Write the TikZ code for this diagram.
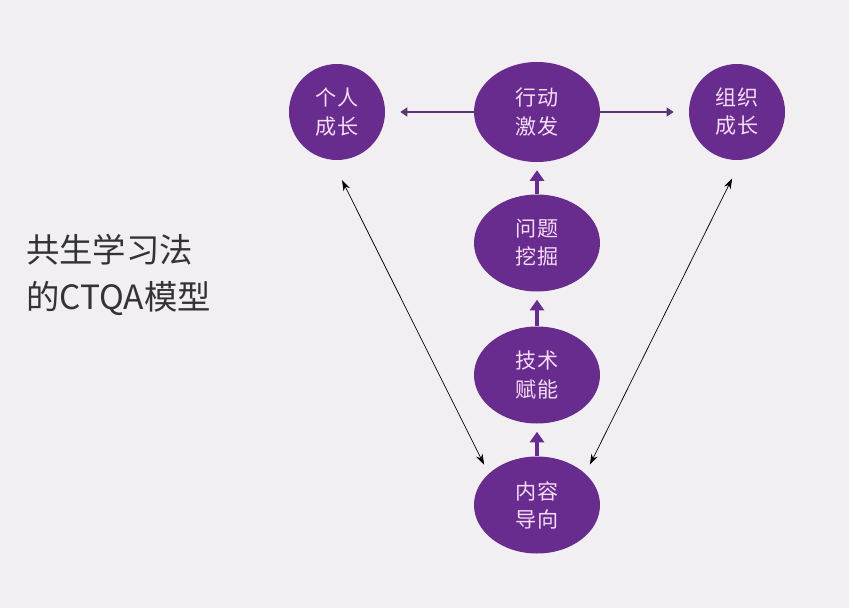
\documentclass[tikz,border=0pt]{standalone}
\usepackage{fontspec}
\setmainfont{Noto Sans CJK SC}
\usepackage{xcolor}
\usetikzlibrary{shapes.geometric,arrows.meta}

\definecolor{bgcol}{HTML}{F2EFF3}
\definecolor{ctqapurple}{HTML}{682C8E}
\definecolor{ctqatext}{HTML}{F6DCF6}
\definecolor{ctqaline}{HTML}{5B3473}

\begin{document}
\begin{tikzpicture}[
    stage/.style={
        ellipse,
        fill=ctqapurple,
        text=ctqatext,
        minimum width=2.52cm,
        minimum height=1.94cm,
        align=center,
        font=\fontsize{12}{16}\selectfont
    },
    growth/.style={
        stage,
        minimum width=1.92cm,
        minimum height=1.92cm
    },
    pushup/.style={
        -{Triangle[width=8pt,length=6pt]},
        line width=2.6pt,
        color=ctqapurple,
        shorten >=4.5pt
    },
    spread/.style={
        -{Triangle[width=5pt,length=4pt]},
        line width=1.4pt,
        color=ctqaline,
        shorten >=8.5pt
    },
    link/.style={
        {Stealth[length=6pt,width=4pt]}-{Stealth[length=6pt,width=4pt]},
        thin,
        black
    }
]

\fill[bgcol] (0,0) rectangle (16.98,-12.16);
\useasboundingbox (0,0) rectangle (16.98,-12.16);

% title
\node[
    anchor=west,
    align=left,
    text=black!80,
    font=\fontsize{19}{27}\selectfont
] (title) at (0.4,-5.5)
{共生学习法\\的CTQA模型};

% top row
\node[growth] (personal) at (6.74,-2.24) {个人\\成长};
\node[stage, minimum height=2.0cm] (action) at (10.74,-2.24) {行动\\激发};
\node[growth] (org) at (14.74,-2.24) {组织\\成长};

% column
\node[stage] (problem) at (10.74,-4.86) {问题\\挖掘};
\node[stage] (tech) at (10.74,-7.50) {技术\\赋能};
\node[stage] (content) at (10.74,-10.10) {内容\\导向};

\draw[pushup] (content.north) -- (tech.south);
\draw[pushup] (tech.north) -- (problem.south);
\draw[pushup] (problem.north) -- (action.south);

\draw[spread] (action.west) -- (personal.east);
\draw[spread] (action.east) -- (org.west);

\draw[link, shorten <=0.45cm, shorten >=0.2cm] (personal.-96) -- (content.147);
\draw[link, shorten <=0.41cm, shorten >=0.2cm] (org.-85) -- (content.33);

\end{tikzpicture}
\end{document}
